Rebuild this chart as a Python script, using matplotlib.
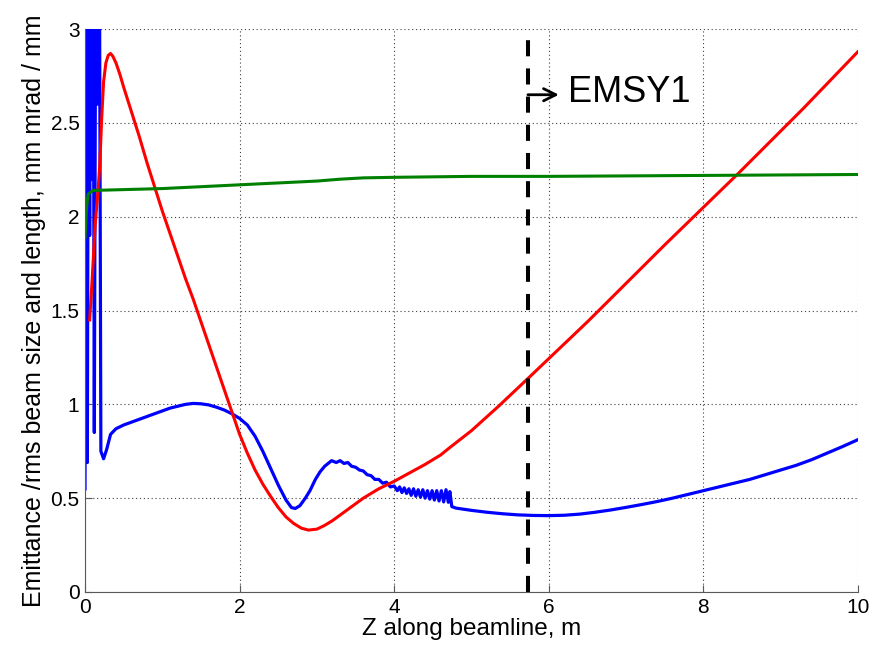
#!/usr/bin/env python3
"""Emittance / rms beam size along the beamline, EMSY1 marker."""

import matplotlib
matplotlib.use('Agg')
import matplotlib.pyplot as plt

plt.rcParams.update({
    'font.family': ['Liberation Sans', 'DejaVu Sans'],
    'font.size': 15,
    'axes.labelsize': 17.5,
    'xtick.labelsize': 15,
    'ytick.labelsize': 15,
})

# blue curve (spiky start, noisy section before 4.75 m)
blue_z = [0.0, 0.005, 0.012, 0.03, 0.045, 0.06, 0.075, 0.09, 0.105, 0.12, 0.14, 0.16, 0.185,
          0.205, 0.24, 0.28, 0.33, 0.40,
          0.5, 0.6, 0.7, 0.8, 0.9, 1.0, 1.1, 1.2, 1.3, 1.4, 1.5, 1.6, 1.7, 1.8, 1.9, 2.0,
          2.1, 2.2, 2.3, 2.4, 2.5, 2.6, 2.67, 2.72, 2.78, 2.85, 2.91, 2.98, 3.04, 3.1, 3.19,
          3.25, 3.30, 3.35, 3.40, 3.45, 3.50, 3.55, 3.60, 3.65, 3.70, 3.75, 3.80, 3.85, 3.90,
          3.95, 4.00, 4.04, 4.07, 4.10, 4.13, 4.16, 4.19, 4.22, 4.25, 4.28, 4.31, 4.34, 4.37,
          4.40, 4.43, 4.46, 4.49, 4.52, 4.55, 4.58, 4.61, 4.64, 4.67, 4.70, 4.72, 4.745,
          4.8, 5.0, 5.2, 5.4, 5.6, 5.8, 6.0, 6.2, 6.4, 6.6, 6.8, 7.0, 7.2, 7.4, 7.6, 7.8,
          8.0, 8.2, 8.4, 8.6, 8.8, 9.0, 9.2, 9.4, 9.6, 9.8, 10.0]
blue_val = [0.55, 1.8, 3.6, 0.69, 3.6, 1.9, 3.6, 2.2, 3.6, 0.85, 3.6, 2.6, 3.6,
            0.75, 0.71, 0.76, 0.84, 0.87,
            0.89, 0.905, 0.92, 0.935, 0.95, 0.965, 0.98, 0.99, 1.0, 1.005, 1.003, 0.997, 0.985,
            0.97, 0.95, 0.925,
            0.89, 0.83, 0.75, 0.66, 0.57, 0.49, 0.45, 0.445, 0.46, 0.50, 0.54, 0.60, 0.64, 0.67, 0.70,
            0.69, 0.70, 0.685, 0.69, 0.67, 0.665, 0.65, 0.645, 0.625, 0.62, 0.60, 0.60, 0.58, 0.585,
            0.56, 0.565, 0.54, 0.56, 0.53, 0.555, 0.525, 0.55, 0.515, 0.55, 0.51, 0.545, 0.505, 0.545,
            0.50, 0.54, 0.495, 0.54, 0.49, 0.54, 0.485, 0.54, 0.48, 0.545, 0.478, 0.535, 0.455,
            0.447, 0.435, 0.425, 0.417, 0.411, 0.408, 0.407, 0.409, 0.415, 0.425, 0.437, 0.451,
            0.466, 0.482, 0.50, 0.52,
            0.54, 0.56, 0.58, 0.60, 0.625, 0.65, 0.675, 0.705, 0.74, 0.775, 0.812]

# red curve
red_z = [0.06, 0.09, 0.13, 0.17, 0.19, 0.215, 0.24, 0.27, 0.30, 0.33, 0.36, 0.40, 0.45,
         0.5, 0.6, 0.7, 0.8, 0.9,
         1.0, 1.1, 1.2, 1.3, 1.4, 1.5, 1.6, 1.7, 1.8, 1.9, 2.0, 2.1, 2.2, 2.3, 2.4, 2.5,
         2.6, 2.7, 2.8, 2.89, 3.0, 3.1, 3.2, 3.3, 3.4, 3.5, 3.6, 3.7, 3.8, 3.9, 4.0,
         4.2, 4.4, 4.6, 4.72, 5.0, 5.35, 5.71, 6.5, 7.5, 8.45, 9.3, 10.0]
red_val = [1.45, 1.65, 1.95, 2.15, 2.27, 2.52, 2.72, 2.82, 2.86, 2.87, 2.855, 2.82, 2.76,
           2.69, 2.56, 2.43, 2.29, 2.16,
           2.03, 1.91, 1.79, 1.67, 1.56, 1.44, 1.32, 1.20, 1.08, 0.96, 0.84, 0.74, 0.65, 0.575,
           0.51, 0.45, 0.40, 0.365, 0.34, 0.33, 0.335, 0.355, 0.38, 0.41, 0.44, 0.47, 0.50,
           0.525, 0.55, 0.57, 0.59, 0.635, 0.68, 0.73, 0.77, 0.86, 0.99, 1.13, 1.44, 1.85,
           2.23, 2.58, 2.88]

# green curve
green_z = [0.0, 0.02, 0.04, 0.1, 1.0, 2.0, 3.0, 3.3, 3.6, 4.0, 5.0, 6.0, 8.0, 10.0]
green_val = [1.89, 2.05, 2.12, 2.14, 2.15, 2.17, 2.19, 2.2, 2.207, 2.21, 2.215, 2.215, 2.22, 2.225]

emsy1_z = 5.73
x_ticks = [0, 2, 4, 6, 8, 10]
y_ticks = [0, 0.5, 1, 1.5, 2, 2.5, 3]
y_tick_labels = ['0', '0.5', '1', '1.5', '2', '2.5', '3']

fig = plt.figure(figsize=(8.73, 6.46), dpi=100)
ax = fig.add_axes([0.0974, 0.0836, 0.8854, 0.8714])

ax.plot(blue_z, blue_val, color='#0000ff', linewidth=2.3)
ax.plot(red_z, red_val, color='#ff0000', linewidth=2.2)
ax.plot(green_z, green_val, color='#008000', linewidth=2.2)
ax.plot([emsy1_z, emsy1_z], [0, 2.95], color='k', linewidth=2.9, dashes=(4, 3))

ax.annotate('', xy=(emsy1_z + 0.4, 2.65), xytext=(emsy1_z, 2.65),
            arrowprops=dict(arrowstyle='->', color='k', lw=2, mutation_scale=22,
                            shrinkA=0, shrinkB=0))
ax.text(emsy1_z + 0.52, 2.66, 'EMSY1', fontsize=26, va='center', ha='left')

ax.set_xlim(0, 10)
ax.set_ylim(0, 3)
ax.set_xticks(x_ticks)
ax.set_yticks(y_ticks)
ax.set_yticklabels(y_tick_labels)
ax.set_xlabel('Z along beamline, m', labelpad=1)
ax.set_ylabel('Emittance /rms beam size and length, mm mrad / mm', fontsize=18, labelpad=3)

ax.grid(True, linestyle=(0, (1, 2.5)), color='0.25', linewidth=0.8)
ax.spines['top'].set_visible(False)
ax.spines['right'].set_visible(False)
for side in ['left', 'bottom']:
    ax.spines[side].set_color('0.35')
ax.tick_params(direction='in', length=5, color='0.35', pad=4)

plt.savefig('out.png', dpi=100)
plt.close()
